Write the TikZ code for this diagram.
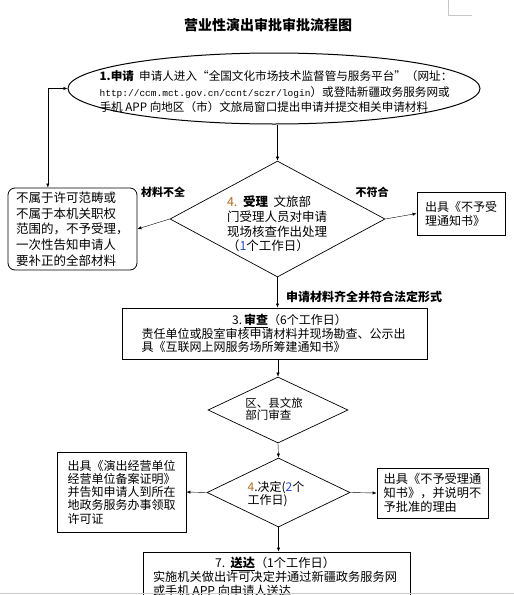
\documentclass[tikz,border=0pt]{standalone}
\usepackage{fontspec}
\setmainfont{Noto Sans CJK SC}
\newfontfamily\urlfont{Liberation Mono}
\usepackage{xcolor}
\usetikzlibrary{shapes.geometric,arrows.meta,calc}

\definecolor{numorange}{RGB}{176,110,34}
\definecolor{numblue}{RGB}{40,80,200}

\begin{document}
\begin{tikzpicture}[
  x=1pt, y=-1pt, >={Latex[length=4pt,width=3.2pt]},
  every node/.style={inner sep=0pt},
  txt/.style={align=left, font=\fontsize{12}{14.5}\selectfont},
  startell/.style={draw, ellipse, line width=1pt, minimum width=412pt, minimum height=71pt},
  choice/.style={draw, diamond, line width=0.7pt},
  box/.style={draw, line width=0.8pt, align=left, font=\fontsize{12}{14}\selectfont},
  roundbox/.style={box, rounded corners=7pt},
  tag/.style={font=\bfseries\fontsize{11}{13}\selectfont},
]
\clip (0,0) rectangle (514,595);
\fill[white] (0,0) rectangle (514,595);
\draw[gray!45, line width=0.8pt] (448,0) -- (448,15.5) -- (472,15.5);

\node[font=\bfseries\fontsize{14}{16}\selectfont] (title) at (268,25) {营业性演出审批审批流程图};

% step 1
\node[startell] (apply) at (274,88.5) {};
\node[txt, font=\fontsize{11.6}{15.5}\selectfont] (applytxt) at (276,92)
  {\textbf{1.申请}\ \ 申请人进入“全国文化市场技术监督管与服务平台”（网址：\\
   {\urlfont\fontsize{9.5}{14}\selectfont http://ccm.mct.gov.cn/ccnt/sczr/login}）或登陆新疆政务服务网或\\
   手机 APP 向地区（市）文旅局窗口提出申请并提交相关申请材料};

% step 4 acceptance
\node[choice, minimum width=215pt, minimum height=116pt] (accept) at (277.5,219) {};
\node[txt, font=\fontsize{12.5}{14.7}\selectfont] (accepttxt) at (277,224)
  {\textcolor{numorange}{4.}\ \ \textbf{受理}\ \ 文旅部\\门受理人员对申请\\现场核查作出处理\\（\textcolor{numblue}{1}个工作日）};
\node[roundbox, minimum width=129pt, minimum height=82pt,
      font=\fontsize{12.5}{15.7}\selectfont] (incomplete) at (72.5,229)
  {不属于许可范畴或\\不属于本机关职权\\范围的，不予受理，\\一次性告知申请人\\要补正的全部材料};
\node[box, minimum width=88pt, minimum height=43pt] (notaccept) at (461,213.5)
  {出具《不予受\\理通知书》};
\node[tag] (lacktag) at (163,192) {材料不全};
\node[tag] (notag) at (372,192) {不符合};
\node[tag, anchor=west, font=\bfseries\fontsize{12}{14}\selectfont] (oktag) at (286,297) {申请材料齐全并符合法定形式};

% step 3 review
\node[box, minimum width=305pt, minimum height=51pt, font=\fontsize{12}{13.5}\selectfont] (review) at (274.5,333.5)
  {\makebox[266pt]{\hspace{30pt}3.\,\textbf{\underline{审查}}（6个工作日）}\\
   责任单位或股室审核申请材料并现场勘查、公示出\\
   具《互联网上网服务场所筹建通知书》};

\node[choice, minimum width=140pt, minimum height=66pt] (county) at (278,410) {};
\node[txt, font=\fontsize{11.5}{12.5}\selectfont] (countytxt) at (274,409) {区、县文旅\\部门审查};

% decision
\node[choice, minimum width=143pt, minimum height=69pt] (decide) at (278.5,492.5) {};
\node[txt, font=\fontsize{12}{12.5}\selectfont] (decidetxt) at (276,494)
  {\textcolor{numorange}{4}.决定(\textcolor{numblue}{2}个\\工作日)};
\node[box, minimum width=129pt, minimum height=80pt, font=\fontsize{12}{13.3}\selectfont] (permit) at (121.5,492)
  {出具《演出经营单位\\经营单位备案证明》\\并告知申请人到所在\\地政务服务办事领取\\许可证};
\node[box, minimum width=111pt, minimum height=50pt, font=\fontsize{12.2}{14}\selectfont] (deny) at (432.5,493)
  {出具《不予受理通\\知书》，并说明不\\予批准的理由};

% step 7 delivery
\node[box, minimum width=267pt, minimum height=60pt] (deliver) at (276.5,582) {};
\node[txt, font=\fontsize{12.2}{13.3}\selectfont] (delivertxt) at (275,576.5)
  {\makebox[244pt]{7.\ \ \textbf{\underline{送达}}（1个工作日）}\\
   实施机关做出许可决定并通过新疆政务服务网\\
   或手机 APP 向申请人送达};

\draw[->] (apply.south -| accept.north) -- (accept.north);
\draw[->] (accept.west) -- (incomplete.east);
\draw[->] (accept.east) -- (notaccept.west);
\draw[<->] (apply.west) -| ($(incomplete.north west)!.31!(incomplete.north east)$);
\draw[->] (accept.south) -- (review.north -| accept.south);
\draw[->] (review.south -| county.north) -- (county.north);
\draw[->] (county.south) -- (decide.north);
\draw[->] (decide.west) -- (permit.east);
\draw[->] (decide.east) -- (deny.west);
\draw[->] (decide.south) -- (deliver.north -| decide.south);

\draw[gray!40, line width=1.2pt] (0,593.6) -- (514,593.6);
\end{tikzpicture}
\end{document}
